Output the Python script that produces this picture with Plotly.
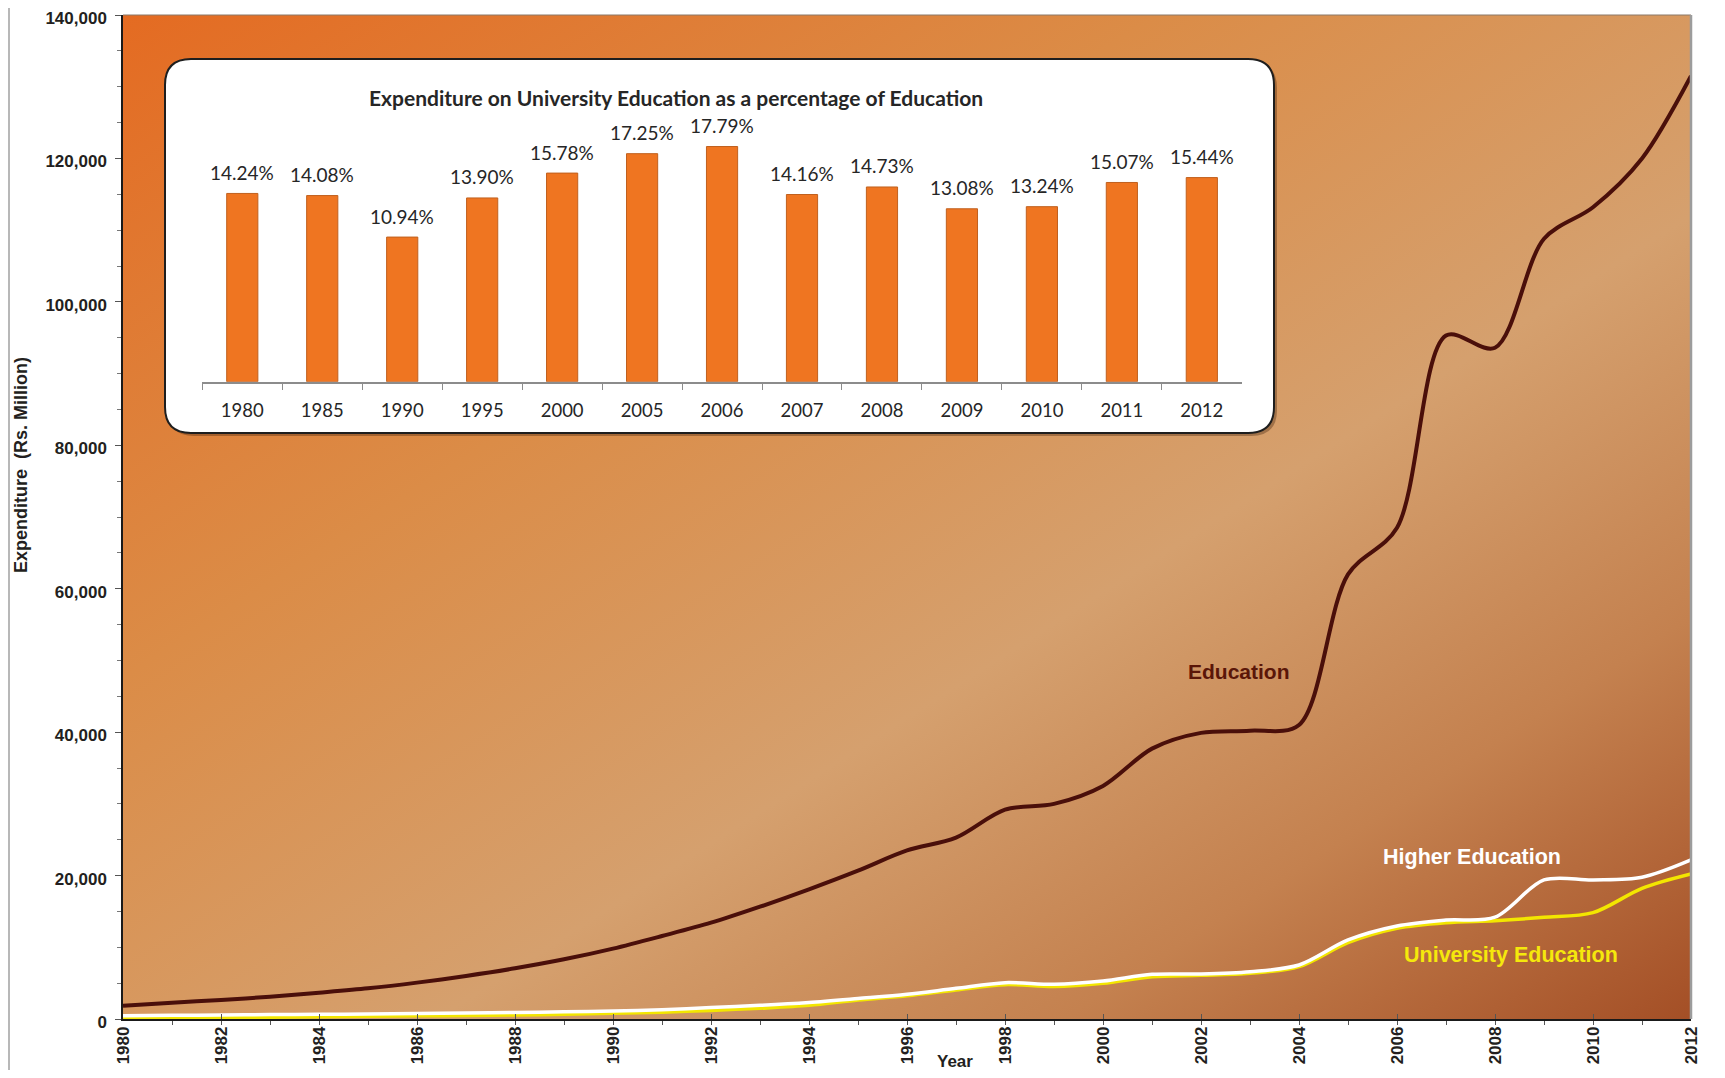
import base64
import plotly.graph_objects as go

# ---------------- data ----------------
years = list(range(1980, 2013))
education = [1860, 2280, 2650, 3110, 3670, 4280, 5070, 6000, 7070, 8320,
             9810, 11570, 13430, 15660, 18080, 20680, 23500, 25300, 29200, 30000,
             32500, 37700, 39900, 40200, 41000, 62000, 68500, 95300, 93600, 108800,
             113200, 120000, 131500]
higher_education = [460, 510, 560, 620, 660, 700, 760, 830, 900, 1000,
                    1115, 1300, 1600, 1900, 2300, 2850, 3440, 4280, 5070, 4830,
                    5300, 6230, 6280, 6600, 7530, 11020, 12970, 13800, 14200, 19390,
                    19390, 19760, 22180]
university_education = [100, 150, 200, 260, 320, 380, 440, 500, 570, 650,
                        790, 950, 1200, 1500, 1900, 2650, 3250, 4050, 4790, 4530,
                        4980, 5900, 6090, 6370, 7300, 10650, 12650, 13430, 13710, 14180,
                        14830, 18220, 20220]

inset_years = ["1980", "1985", "1990", "1995", "2000", "2005", "2006",
               "2007", "2008", "2009", "2010", "2011", "2012"]
inset_pct = [14.24, 14.08, 10.94, 13.90, 15.78, 17.25, 17.79,
             14.16, 14.73, 13.08, 13.24, 15.07, 15.44]

y_ticks = [0, 20000, 40000, 60000, 80000, 100000, 120000, 140000]

# ---------------- geometry (page pixels; the page body has an 8px margin) ----------------
OFF = 8
W, H = 1725 - 2 * OFF, 1078 - 2 * OFF
L, R, T, B = 123, 1691, 15, 1019          # plot area in page pixels
PW, PH = R - L, B - T


def px(x):
    return (x - L) / PW


def py(y):
    return (B - y) / PH


ARIAL = "Liberation Sans, Arial, sans-serif"
CALIBRI = "Lato, Carlito, Calibri, sans-serif"
DARK = "#231F20"

fig = go.Figure()

# main lines
fig.add_trace(go.Scatter(x=years, y=university_education, mode="lines",
                         line=dict(color="#F3E600", width=3.5, shape="spline", smoothing=0.9),
                         name="University Education", showlegend=False, xaxis="x", yaxis="y"))
fig.add_trace(go.Scatter(x=years, y=higher_education, mode="lines",
                         line=dict(color="#FFFFFF", width=3.5, shape="spline", smoothing=0.9),
                         name="Higher Education", showlegend=False, xaxis="x", yaxis="y"))
fig.add_trace(go.Scatter(x=years, y=education, mode="lines",
                         line=dict(color="#4A0F0A", width=4, shape="spline", smoothing=0.9),
                         name="Education", showlegend=False, xaxis="x", yaxis="y"))

# inset bars
fig.add_trace(go.Bar(x=inset_years, y=inset_pct, width=0.39,
                     marker=dict(color="#EF7521", line=dict(color="#C0601E", width=1)),
                     showlegend=False, xaxis="x2", yaxis="y2", hoverinfo="x+y"))

# ---------------- background gradient ----------------
svg = (
    '<svg xmlns="http://www.w3.org/2000/svg" width="1568" height="1004" preserveAspectRatio="none">'
    '<defs><linearGradient id="g" x1="0" y1="0" x2="1" y2="1">'
    '<stop offset="0" stop-color="#E46B22"/>'
    '<stop offset="0.33" stop-color="#DB8C47"/>'
    '<stop offset="0.6" stop-color="#D5A06E"/>'
    '<stop offset="0.8" stop-color="#C4814F"/>'
    '<stop offset="1" stop-color="#A44F26"/>'
    '</linearGradient></defs>'
    '<rect width="1568" height="1004" fill="url(#g)"/></svg>'
)
src = "data:image/svg+xml;base64," + base64.b64encode(svg.encode()).decode()

# ---------------- inset box ----------------
bx0, bx1 = px(165), px(1274)
by0, by1 = py(433), py(59)
rx, ry = 26 / PW, 26 / PH


def rounded(x0, x1, y0, y1):
    return (f"M {x0+rx},{y1} L {x1-rx},{y1} Q {x1},{y1} {x1},{y1-ry} "
            f"L {x1},{y0+ry} Q {x1},{y0} {x1-rx},{y0} L {x0+rx},{y0} "
            f"Q {x0},{y0} {x0},{y0+ry} L {x0},{y1-ry} Q {x0},{y1} {x0+rx},{y1} Z")


shapes = [
    dict(type="path", xref="paper", yref="paper", layer="below",
         path=rounded(bx0 + 3 / PW, bx1 + 3 / PW, by0 - 3 / PH, by1 - 3 / PH),
         fillcolor="rgba(60,30,10,0.35)", line=dict(width=0)),
    dict(type="path", xref="paper", yref="paper", layer="below",
         path=rounded(bx0, bx1, by0, by1),
         fillcolor="#FFFFFF", line=dict(color="#1E1E1E", width=2)),
    dict(type="line", xref="paper", yref="paper", x0=0, x1=1, y0=1, y1=1,
         line=dict(color="#8A7868", width=1)),
    dict(type="line", xref="paper", yref="paper", x0=1, x1=1, y0=0, y1=1,
         line=dict(color="#9C9C9C", width=2.5)),
    dict(type="line", xref="paper", yref="paper", x0=px(OFF + 1), x1=px(OFF + 1),
         y0=py(1078 - OFF), y1=py(OFF), line=dict(color="#A0A0A0", width=1.5)),
]

annotations = [
    dict(text="<b>Expenditure on University Education as a percentage of Education</b>",
         xref="paper", yref="paper", x=px(676), y=py(97), showarrow=False,
         font=dict(family=CALIBRI, size=21, color="#262626"), xanchor="center", yanchor="middle"),
    dict(text="<b>Education</b>", x=2002.78, y=48390, xref="x", yref="y", showarrow=False,
         font=dict(family=ARIAL, size=21, color="#5A1608"), xanchor="center", yanchor="middle"),
    dict(text="<b>Higher Education</b>", x=2007.53, y=22590, xref="x", yref="y", showarrow=False,
         font=dict(family=ARIAL, size=21.5, color="#FFFFFF"), xanchor="center", yanchor="middle"),
    dict(text="<b>University Education</b>", x=2008.33, y=8925, xref="x", yref="y", showarrow=False,
         font=dict(family=ARIAL, size=21.5, color="#F5E80C"), xanchor="center", yanchor="middle"),
    dict(text="<b>Expenditure  (Rs. Million)</b>", xref="paper", yref="paper",
         x=px(21), y=py(465), showarrow=False, textangle=-90,
         font=dict(family=ARIAL, size=18, color=DARK), xanchor="center", yanchor="middle"),
    dict(text="<b>Year</b>", xref="paper", yref="paper", x=px(955), y=py(1061), showarrow=False,
         font=dict(family=ARIAL, size=17, color=DARK), xanchor="center", yanchor="middle"),
]
for i, v in enumerate(inset_pct):
    annotations.append(dict(text=f"{v:.2f}%", x=i, y=v, xref="x2", yref="y2", showarrow=False,
                            xanchor="center", yanchor="middle", yshift=21,
                            font=dict(family=CALIBRI, size=19, color="#262626")))

fig.update_layout(
    width=W, height=H,
    margin=dict(l=L - OFF, r=W - (R - OFF), t=T - OFF, b=H - (B - OFF), pad=0),
    paper_bgcolor="#FFFFFF",
    plot_bgcolor="rgba(0,0,0,0)",
    images=[dict(source=src, xref="paper", yref="paper", x=0, y=1, sizex=1, sizey=1,
                 xanchor="left", yanchor="top", sizing="stretch", layer="below")],
    shapes=shapes,
    annotations=annotations,
    showlegend=False,
    xaxis=dict(range=[1980, 2012], tick0=1980, dtick=2, showgrid=False, zeroline=False,
               showline=True, linecolor="#1A1A1A", linewidth=1.5,
               ticks="inside", ticklen=5, tickcolor="#555555", tickwidth=1,
               minor=dict(dtick=1, tick0=1980, ticks="outside", ticklen=4,
                          tickcolor="#555555", tickwidth=1, showgrid=False),
               tickangle=-90, ticklabelstandoff=-1, ticklabeloverflow="allow",
               tickfont=dict(family=ARIAL, size=17, color=DARK, weight="bold"),
               automargin=False, fixedrange=True),
    yaxis=dict(range=[0, 140000], tickvals=y_ticks, tickformat=",d", showgrid=False,
               zeroline=False, showline=True, linecolor="#1A1A1A", linewidth=1.5,
               ticks="outside", ticklen=6, tickcolor="#555555", tickwidth=1,
               minor=dict(dtick=5000, ticks="outside", ticklen=4, tickcolor="#777777",
                          tickwidth=1, showgrid=False),
               ticklabelstandoff=5, ticklabelshift=3, ticklabeloverflow="allow",
               tickfont=dict(family=ARIAL, size=17, color=DARK, weight="bold"),
               automargin=False, fixedrange=True),
    xaxis2=dict(domain=[px(202.3), px(1241.8)], anchor="y2", type="category",
                categoryorder="array", categoryarray=inset_years, range=[-0.5, 12.5],
                showgrid=False, zeroline=False, showline=True, linecolor="#8C8C8C", linewidth=1.5,
                ticks="outside", tickson="boundaries", ticklen=7, tickcolor="#8C8C8C",
                tickangle=0,
                tickfont=dict(family=CALIBRI, size=18.5, color="#262626"),
                ticklabelstandoff=11, automargin=False, fixedrange=True),
    yaxis2=dict(domain=[py(381.7), py(117.3)], anchor="x2", range=[0, 20], visible=False,
                fixedrange=True),
)

fig.write_html("out.html")
